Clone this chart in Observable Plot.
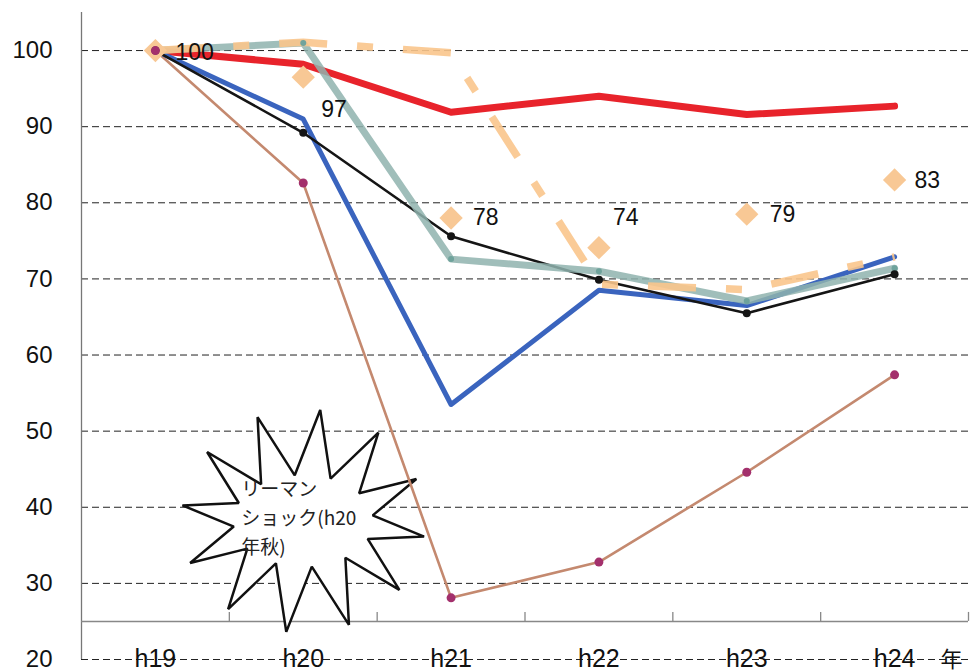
<!DOCTYPE html>
<html><head><meta charset="utf-8">
<script src="https://cdn.jsdelivr.net/npm/d3@7"></script>
<script src="https://cdn.jsdelivr.net/npm/@observablehq/plot@0.6"></script>
<style>body{margin:0;background:#fff} svg{display:block}</style>
</head><body><div id="chart"></div>
<script>
// ---- data ----
const categories = ["h19", "h20", "h21", "h22", "h23", "h24"];
const yTicks = [20, 30, 40, 50, 60, 70, 80, 90, 100];
const seriesRed = [100, 98.2, 91.9, 94.0, 91.6, 92.7];
const seriesTeal = [100, 101.0, 72.6, 71.0, 67.1, 71.4];
const seriesOrangeDashed = [100, 101.1, 99.7, 69.3, 68.6, 72.9];
const seriesBlue = [100, 91.0, 53.5, 68.5, 66.5, 72.9];
const seriesBlack = [100, 89.2, 75.6, 69.9, 65.5, 70.6];
const seriesBrown = [100, 82.6, 28.1, 32.8, 44.6, 57.4];
const diamondValues = [100, 96.5, 78.0, 74.1, 78.5, 83.0];
const diamondLabels = ["100", "97", "78", "74", "79", "83"];
const unitLabel = "年";
const annotationText = "リーマン\nショック(h20\n年秋)";

// ---- layout ----
const W = 970, H = 672, mL = 81, mR = 2, mT = 12, mB = 13;
const xDomain = [-0.5, categories.length - 0.5];
const yDomain = [20, 105];
const axisCross = 25;
const kx = (W - mL - mR) / (xDomain[1] - xDomain[0]);
const ky = (H - mT - mB) / (yDomain[1] - yDomain[0]);
const labelNudges = [[20, 2], [18, 32], [22, 0], [14, -30], [23, 0], [20, 1]];
const burstCenter = {x: 1.0, y: 38.2};
const burstPx = {rxOut: 122, ryOut: 112, rxIn: 70, ryIn: 46, start: -142};

const rows = vals => vals.map((v, i) => ({i, v}));
const catIdx = categories.map((c, i) => i);

// star burst polygon (in data units, computed from pixel radii)
const burst = [];
for (let k = 0; k < 24; k++) {
  const a = (burstPx.start + k * 15) * Math.PI / 180;
  const outer = k % 2 === 0;
  const rx = outer ? burstPx.rxOut : burstPx.rxIn;
  const ry = outer ? burstPx.ryOut : burstPx.ryIn;
  burst.push({x: burstCenter.x + rx * Math.cos(a) / kx, y: burstCenter.y - ry * Math.sin(a) / ky});
}

const font = "Liberation Sans, Arial, sans-serif";
const jp = "Noto Sans CJK JP, sans-serif";

const marks = [
  // grid
  Plot.ruleY(yTicks, {x1: xDomain[0], x2: xDomain[1], stroke: "#222", strokeWidth: 1, strokeDasharray: "7,4"}),
  // y axis line
  Plot.ruleX([xDomain[0]], {y1: yDomain[0], y2: yDomain[1], stroke: "#777", strokeWidth: 1.3}),
  // x axis line at 25 with category separators
  Plot.ruleY([axisCross], {x1: xDomain[0], x2: xDomain[1], stroke: "#888", strokeWidth: 1.5}),
  Plot.ruleX(catIdx, {x: d => d + 0.5, y1: axisCross, y2: axisCross + 9 / ky, stroke: "#888", strokeWidth: 1.3}),
  Plot.axisY({ticks: yTicks, tickSize: 0, tickPadding: 29, fontSize: 24, fontFamily: font, fill: "#111", label: null}),
  // x category labels
  Plot.text(categories, {x: (d, i) => i, y: yDomain[0], text: d => d, dy: 7, lineAnchor: "bottom", fontSize: 25, fontFamily: font, fill: "#111"}),
  Plot.text([unitLabel], {x: categories.length - 1, y: yDomain[0], text: d => d, dx: 57, dy: 7, lineAnchor: "bottom", fontSize: 22, fontFamily: jp, fill: "#111"}),
  // burst annotation
  Plot.line(burst, {x: "x", y: "y", stroke: "#111", strokeWidth: 2.5, fill: "white", strokeLinejoin: "miter", curve: "linear-closed"}),
  Plot.text([annotationText], {x: burstCenter.x, y: burstCenter.y, text: d => d, dx: -62, dy: -5, textAnchor: "start", lineAnchor: "middle", lineHeight: 1.53, fontSize: 19, fontFamily: jp, fill: "#222"}),
  // series lines
  Plot.line(rows(seriesBrown), {x: "i", y: "v", stroke: "#c4896f", strokeWidth: 2.6}),
  Plot.line(rows(seriesRed), {x: "i", y: "v", stroke: "#e8232b", strokeWidth: 7}),
  Plot.line(rows(seriesBlue), {x: "i", y: "v", stroke: "#3a64be", strokeWidth: 5}),
  Plot.line(rows(seriesBlack), {x: "i", y: "v", stroke: "#151515", strokeWidth: 2.6}),
  Plot.line(rows(seriesTeal), {x: "i", y: "v", stroke: "#8fb3ae", strokeWidth: 7, strokeOpacity: 0.85}),
  Plot.line(rows(seriesOrangeDashed), {x: "i", y: "v", stroke: "#f9c58c", strokeWidth: 7.5, strokeDasharray: "48,30,16,30", strokeLinecap: "butt", strokeOpacity: 0.9}),
  Plot.dot(rows(diamondValues), {x: "i", y: "v", symbol: "diamond2", r: 10.5, fill: "#f8c895", stroke: "none"}),
  // markers
  Plot.dot(rows(seriesTeal), {x: "i", y: "v", r: 3, fill: "#6fa39c"}),
  Plot.dot(rows(seriesBlack), {x: "i", y: "v", r: 4, fill: "#151515"}),
  Plot.dot(rows(seriesBrown), {x: "i", y: "v", r: 4.5, fill: "#a3306c"}),
  // data labels
  ...diamondLabels.map((t, i) => Plot.text([t], {x: i, y: diamondValues[i], text: d => d, dx: labelNudges[i][0], dy: labelNudges[i][1], textAnchor: "start", fontSize: 23, fontFamily: font, fill: "#111"}))
];

const chart = Plot.plot({
  width: W, height: H,
  marginLeft: mL, marginRight: mR, marginTop: mT, marginBottom: mB,
  x: {domain: xDomain, axis: null},
  y: {domain: yDomain, axis: null},
  style: {background: "#fff", fontFamily: font},
  marks
});
document.getElementById("chart").appendChild(chart);
</script>
</body></html>
